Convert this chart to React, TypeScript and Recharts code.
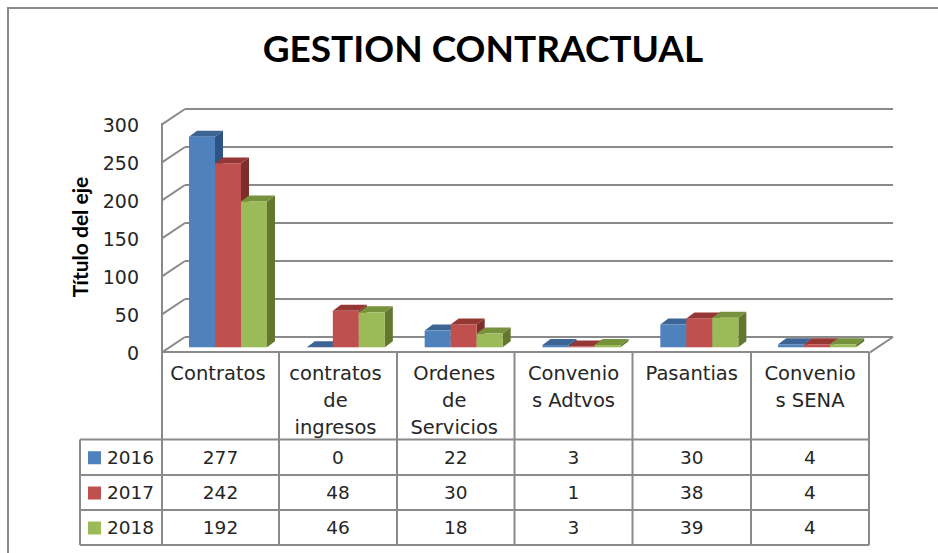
import { Bar, BarChart, CartesianGrid, XAxis, YAxis } from "recharts";

const categories = ["Contratos", "contratos de ingresos", "Ordenes de Servicios", "Convenios Adtvos", "Pasantias", "Convenios SENA"];
const categoryLines = [
  ["Contratos"],
  ["contratos", "de", "ingresos"],
  ["Ordenes", "de", "Servicios"],
  ["Convenio", "s Adtvos"],
  ["Pasantias"],
  ["Convenio", "s SENA"]
];
const values2016 = [277, 0, 22, 3, 30, 4];
const values2017 = [242, 48, 30, 1, 38, 4];
const values2018 = [192, 46, 18, 3, 39, 4];
const yTicks = [0, 50, 100, 150, 200, 250, 300];

const series = [
  { name: "2016", values: values2016, front: "#4f81bd", top: "#3c6494", side: "#2f5382" },
  { name: "2017", values: values2017, front: "#c0504d", top: "#953735", side: "#7d2d2b" },
  { name: "2018", values: values2018, front: "#9bbb59", top: "#76923c", side: "#64772f" }
];

const data = categories.map((name, i) => ({
  name,
  y2016: values2016[i],
  y2017: values2017[i],
  y2018: values2018[i]
}));

const LINE = "#8a8a8a";
const TEXT = "#262626";
const TEXT_FONT = "'DejaVu Sans', sans-serif";
const columnX = [162, 279, 397, 514.5, 632.5, 751, 869];
const labelShift = [-2.5, -2.5, -1.5, 0, 0, 0];
const rowY = [439.5, 475, 510, 545];
const depth = { x: 8, y: 6 };

function bar3d(colors: { front: string; top: string; side: string }) {
  return function Shape(props: any) {
    const { x, y, width, height } = props;
    const r = x + width;
    const b = y + height;
    return (
      <g>
        <polygon
          fill={colors.side}
          points={`${r},${y} ${r + depth.x},${y - depth.y} ${r + depth.x},${b - depth.y} ${r},${b}`}
        />
        <polygon
          fill={colors.top}
          points={`${x},${y} ${x + depth.x},${y - depth.y} ${r + depth.x},${y - depth.y} ${r},${y}`}
        />
        <rect fill={colors.front} height={height} width={width} x={x} y={y} />
      </g>
    );
  };
}

// wall line on the back, with the diagonal down the side wall
function WallLine(props: any) {
  const y = props.y1;
  const isFloor = Math.abs(y - 347.3) < 1;
  return (
    <g fill="none" key={props.key} stroke={LINE} strokeWidth={2}>
      <line x1={185} x2={893} y1={y - 10.3} y2={y - 10.3} />
      <line x1={162} x2={185} y1={y + 5} y2={y - 10.3} />
      {isFloor && <line x1={870} x2={893} y1={y + 5} y2={y - 10.3} />}
    </g>
  );
}

function ValueTick({ y, payload }: any) {
  return (
    <text fill={TEXT} fontFamily={TEXT_FONT} fontSize={19} textAnchor="end" x={139} y={y + 13}>
      {payload.value}
    </text>
  );
}

function CategoryTick({ index }: any) {
  const center = (columnX[index] + columnX[index + 1]) / 2 + labelShift[index];
  return (
    <text fill={TEXT} fontFamily={TEXT_FONT} fontSize={19.5} textAnchor="middle">
      {categoryLines[index].map((line, i) => (
        <tspan key={line} x={center} y={380 + i * 27}>
          {line}
        </tspan>
      ))}
    </text>
  );
}

function DataTable() {
  return (
    <g>
      <g stroke={LINE} strokeWidth={2}>
        <line x1={162} x2={162} y1={123} y2={545} />
        <line x1={162} x2={869} y1={352} y2={352} />
        <line x1={80} x2={80} y1={rowY[0]} y2={rowY[3]} />
        {columnX.slice(1).map((x) => (
          <line key={x} x1={x} x2={x} y1={352} y2={545} />
        ))}
        {rowY.map((y) => (
          <line key={y} x1={80} x2={869} y1={y} y2={y} />
        ))}
      </g>
      {series.map((s, row) => {
        const top = rowY[row];
        const mid = (top + rowY[row + 1]) / 2;
        return (
          <g fill={TEXT} fontFamily={TEXT_FONT} fontSize={18.5} key={s.name}>
            <rect fill={s.front} height={13} width={13} x={88} y={mid - 6} />
            <text x={107} y={mid + 6.5}>
              {s.name}
            </text>
            {s.values.map((v, i) => (
              <text key={i} textAnchor="middle" x={(columnX[i] + columnX[i + 1]) / 2} y={mid + 6.5}>
                {v}
              </text>
            ))}
          </g>
        );
      })}
    </g>
  );
}

export default function App() {
  return (
    <div style={{ position: "absolute", left: 0, top: 0, width: 938, height: 553, background: "#fff", overflow: "hidden" }}>
      <BarChart
        barCategoryGap={40}
        barGap={0}
        data={data}
        height={553}
        margin={{ top: 119.3, right: 62, bottom: 175.7, left: 109 }}
        width={938}
      >
        <line stroke={LINE} strokeWidth={2} x1={8} x2={8} y1={7} y2={553} />
        <line stroke={LINE} strokeWidth={2} x1={7} x2={938} y1={8} y2={8} />
        <text
          fill="#000"
          fontFamily="Lato, sans-serif"
          fontSize={37}
          fontWeight={700}
          textAnchor="middle"
          x={483}
          y={62}
        >
          GESTION CONTRACTUAL
        </text>
        <text
          fill="#000"
          fontFamily="Lato, sans-serif"
          fontSize={21}
          fontWeight={700}
          textAnchor="middle"
          transform="rotate(-90 88 237)"
          x={88}
          y={237}
        >
          Título del eje
        </text>
        <CartesianGrid horizontal={(props: any) => <WallLine {...props} />} vertical={false} />
        <XAxis axisLine={false} dataKey="name" height={30} interval={0} tick={CategoryTick} tickLine={false} />
        <YAxis axisLine={false} domain={[0, 300]} tick={ValueTick} tickLine={false} ticks={yTicks} width={60} />
        <DataTable />
        <Bar barSize={26} dataKey="y2016" isAnimationActive={false} shape={bar3d(series[0])} />
        <Bar barSize={26} dataKey="y2017" isAnimationActive={false} shape={bar3d(series[1])} />
        <Bar barSize={26} dataKey="y2018" isAnimationActive={false} shape={bar3d(series[2])} />
      </BarChart>
    </div>
  );
}
